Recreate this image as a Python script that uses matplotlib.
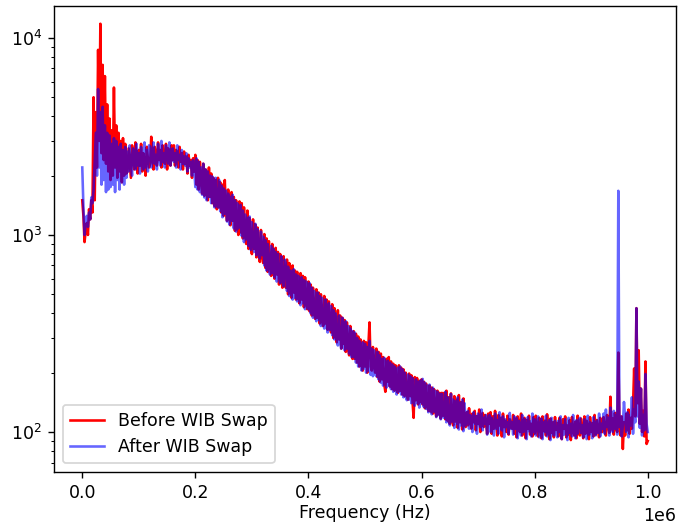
import numpy as np
import matplotlib
matplotlib.use("Agg")
import matplotlib.pyplot as plt

# Frequency bins (Hz), spacing 2 kHz from 0 to 1 MHz
freq_step_hz = 2000

before_swap = [
    1500, 1250, 920, 1050, 1150, 1000, 1350, 1200, 1500, 1300,
    5000, 1500, 4200, 2200, 8700, 3000, 11800, 2600, 7300, 2400,
    6400, 2300, 4600, 2100, 3900, 1900, 3400, 2000, 5600, 2200,
    3600, 1950, 3300, 2100, 3000, 1850, 3100, 2000, 2900, 2050,
    2100, 2750, 2300, 1950, 2850, 2500, 2150, 2950, 2400, 2050,
    2700, 2250, 2900, 2100, 2600, 2350, 2000, 2800, 2450, 2200,
    2300, 3150, 2450, 2150, 2800, 2600, 2250, 2950, 2400, 2700,
    2200, 2850, 2500, 2300, 2900, 2150, 2750, 2450, 2250, 2850,
    2400, 2850, 2250, 2700, 2500, 2200, 2800, 2350, 2600, 2150,
    2650, 2300, 2500, 2050, 2550, 2250, 2400, 1950, 2450, 2100,
    2550, 1800, 2400, 1700, 2350, 1900, 1620, 2300, 1580, 2150,
    2050, 1500, 2200, 1560, 2050, 1450, 1950, 1400, 1900, 1350,
    1950, 1380, 1850, 1300, 1800, 1250, 1900, 1350, 1180, 1700,
    1280, 1120, 1650, 1180, 1560, 1050, 1500, 1130, 1000, 1480,
    1030, 1450, 960, 1380, 1000, 900, 1330, 850, 1220, 900,
    800, 1200, 850, 1130, 770, 1090, 820, 730, 1060, 780,
    720, 1010, 680, 960, 650, 930, 700, 620, 900, 660,
    600, 860, 630, 820, 560, 800, 610, 540, 780, 580,
    540, 750, 500, 720, 530, 480, 700, 510, 660, 470,
    650, 490, 450, 640, 470, 620, 430, 610, 460, 420,
    580, 410, 560, 390, 540, 400, 375, 530, 380, 510,
    355, 500, 370, 345, 490, 355, 470, 330, 460, 340,
    320, 445, 300, 425, 310, 285, 415, 295, 390, 265,
    380, 280, 370, 255, 360, 265, 245, 345, 255, 235,
    325, 235, 315, 225, 305, 215, 295, 225, 205, 290,
    215, 285, 200, 275, 360, 215, 205, 270, 215, 200,
    265, 190, 255, 180, 250, 185, 240, 175, 160, 235,
    180, 240, 170, 228, 165, 222, 162, 218, 165, 158,
    218, 162, 212, 155, 208, 152, 200, 158, 146, 198,
    152, 194, 143, 118, 190, 145, 188, 138, 182, 142,
    185, 138, 180, 132, 176, 136, 128, 172, 127, 168,
    124, 165, 129, 120, 162, 123, 158, 117, 158, 121,
    158, 116, 162, 114, 150, 110, 157, 115, 108, 152,
    113, 146, 105, 154, 112, 142, 103, 148, 110, 106,
    126, 108, 132, 115, 104, 124, 112, 128, 102, 120,
    110, 130, 100, 118, 125, 106, 122, 112, 98, 124,
    110, 126, 98, 120, 104, 128, 112, 96, 122, 108,
    118, 95, 124, 106, 114, 100, 121, 97, 116, 108,
    104, 122, 98, 117, 94, 120, 108, 100, 124, 96,
    112, 118, 93, 115, 104, 121, 97, 110, 95, 119,
    98, 121, 104, 95, 118, 108, 93, 120, 101, 114,
    96, 123, 105, 92, 117, 99, 112, 94, 119, 103,
    111, 95, 118, 100, 92, 116, 104, 120, 94, 108,
    97, 115, 91, 119, 102, 96, 113, 93, 121, 99,
    96, 117, 102, 93, 120, 98, 114, 105, 92, 119,
    100, 111, 95, 122, 97, 115, 103, 94, 118, 100,
    100, 119, 104, 96, 122, 108, 99, 151, 103, 117,
    97, 125, 105, 100, 253, 110, 96, 120, 82, 112,
    96, 124, 102, 130, 98, 118, 104, 135, 210, 120,
    425, 140, 260, 110, 166, 100, 128, 95, 228, 87,
    90,
]

after_swap = [
    2200, 1400, 1000, 1150, 1250, 1100, 1300, 1200, 1550, 1450,
    1700, 2400, 3300, 2000, 5500, 2200, 4200, 1800, 4470, 1900,
    3600, 1650, 3300, 1700, 3200, 1750, 2900, 1800, 3100, 1650,
    3000, 1900, 2800, 1700, 2900, 1850, 2700, 1800, 2800, 1950,
    2650, 2100, 2850, 2300, 2000, 2750, 2450, 2150, 2900, 2250,
    2600, 2050, 2800, 2350, 2150, 2950, 2200, 2700, 2100, 2850,
    2800, 2200, 2650, 2950, 2300, 2550, 2150, 2900, 2450, 2250,
    3000, 2350, 2600, 2200, 2850, 2500, 2300, 2950, 2250, 2700,
    2750, 2350, 2600, 2200, 2850, 2400, 2550, 2150, 2700, 2300,
    2500, 2250, 2600, 2100, 2450, 2200, 2350, 2000, 2400, 2150,
    1750, 2450, 1700, 2350, 1650, 2200, 1600, 2300, 1550, 2150,
    1500, 2100, 1560, 2000, 1450, 1980, 1500, 1380, 1950, 1420,
    1380, 1900, 1320, 1780, 1230, 1720, 1280, 1680, 1170, 1620,
    1130, 1560, 1180, 1600, 1080, 1500, 1040, 1450, 1080, 1400,
    1420, 990, 1330, 920, 1270, 950, 1220, 880, 1240, 840,
    1160, 890, 820, 1140, 790, 1070, 810, 760, 1040, 790,
    980, 700, 940, 660, 900, 680, 630, 880, 640, 850,
    610, 820, 580, 800, 620, 570, 780, 590, 550, 750,
    720, 520, 690, 490, 660, 510, 470, 670, 480, 630,
    460, 620, 470, 440, 610, 450, 590, 420, 580, 440,
    420, 570, 400, 540, 380, 520, 390, 365, 510, 370,
    490, 345, 480, 355, 335, 470, 345, 320, 450, 330,
    435, 310, 415, 295, 400, 300, 275, 390, 285, 265,
    380, 275, 260, 365, 265, 345, 250, 335, 240, 325,
    240, 320, 225, 300, 215, 290, 220, 205, 285, 210,
    280, 200, 270, 205, 290, 195, 265, 192, 260, 198,
    192, 255, 185, 245, 178, 235, 172, 238, 180, 168,
    230, 172, 225, 165, 220, 160, 215, 168, 155, 212,
    160, 215, 155, 208, 150, 200, 153, 145, 196, 146,
    192, 140, 188, 143, 136, 185, 140, 180, 133, 182,
    140, 186, 134, 178, 131, 172, 126, 174, 130, 123,
    168, 127, 162, 119, 160, 122, 156, 116, 156, 119,
    118, 160, 112, 150, 115, 108, 156, 113, 146, 105,
    143, 110, 150, 103, 141, 108, 146, 101, 140, 108,
    112, 128, 104, 122, 116, 100, 126, 110, 120, 98,
    124, 114, 106, 130, 102, 118, 110, 122, 97, 116,
    122, 100, 118, 108, 96, 124, 104, 115, 98, 126,
    110, 102, 120, 94, 116, 106, 112, 98, 125, 104,
    112, 97, 120, 104, 118, 93, 114, 107, 96, 122,
    100, 116, 106, 92, 119, 101, 113, 95, 124, 100,
    116, 96, 110, 120, 94, 106, 117, 92, 112, 100,
    121, 95, 108, 115, 91, 118, 102, 96, 114, 98,
    94, 114, 100, 120, 92, 108, 97, 116, 103, 91,
    118, 99, 110, 95, 122, 101, 93, 115, 98, 112,
    118, 99, 108, 94, 116, 103, 92, 121, 97, 112,
    100, 93, 119, 105, 96, 114, 99, 124, 95, 110,
    104, 124, 98, 130, 106, 118, 96, 133, 110, 100,
    128, 104, 122, 97, 1675, 106, 120, 95, 108, 142,
    118, 100, 126, 94, 122, 108, 150, 98, 130, 112,
    425, 120, 180, 105, 166, 96, 122, 102, 197, 110,
    100,
]

labels = ["Before WIB Swap", "After WIB Swap"]

assert len(before_swap) == len(after_swap) == 501
freqs = np.arange(len(before_swap)) * freq_step_hz

dpi = 125
fig = plt.figure(figsize=(679 / dpi, 525 / dpi), dpi=dpi)
ax = fig.add_axes([54 / 679, 1 - 472 / 525, (676 - 54) / 679, (472 - 6) / 525])

ax.plot(freqs, before_swap, color="red", label=labels[0])
ax.plot(freqs, after_swap, color="blue", alpha=0.6, label=labels[1])
ax.set_yscale("log")
ax.set_ylim(10 ** 1.797, 10 ** 4.162)
ax.set_xlabel("Frequency (Hz)", labelpad=1)
ax.legend(loc="lower left")

fig.savefig("out.png", dpi=dpi)
